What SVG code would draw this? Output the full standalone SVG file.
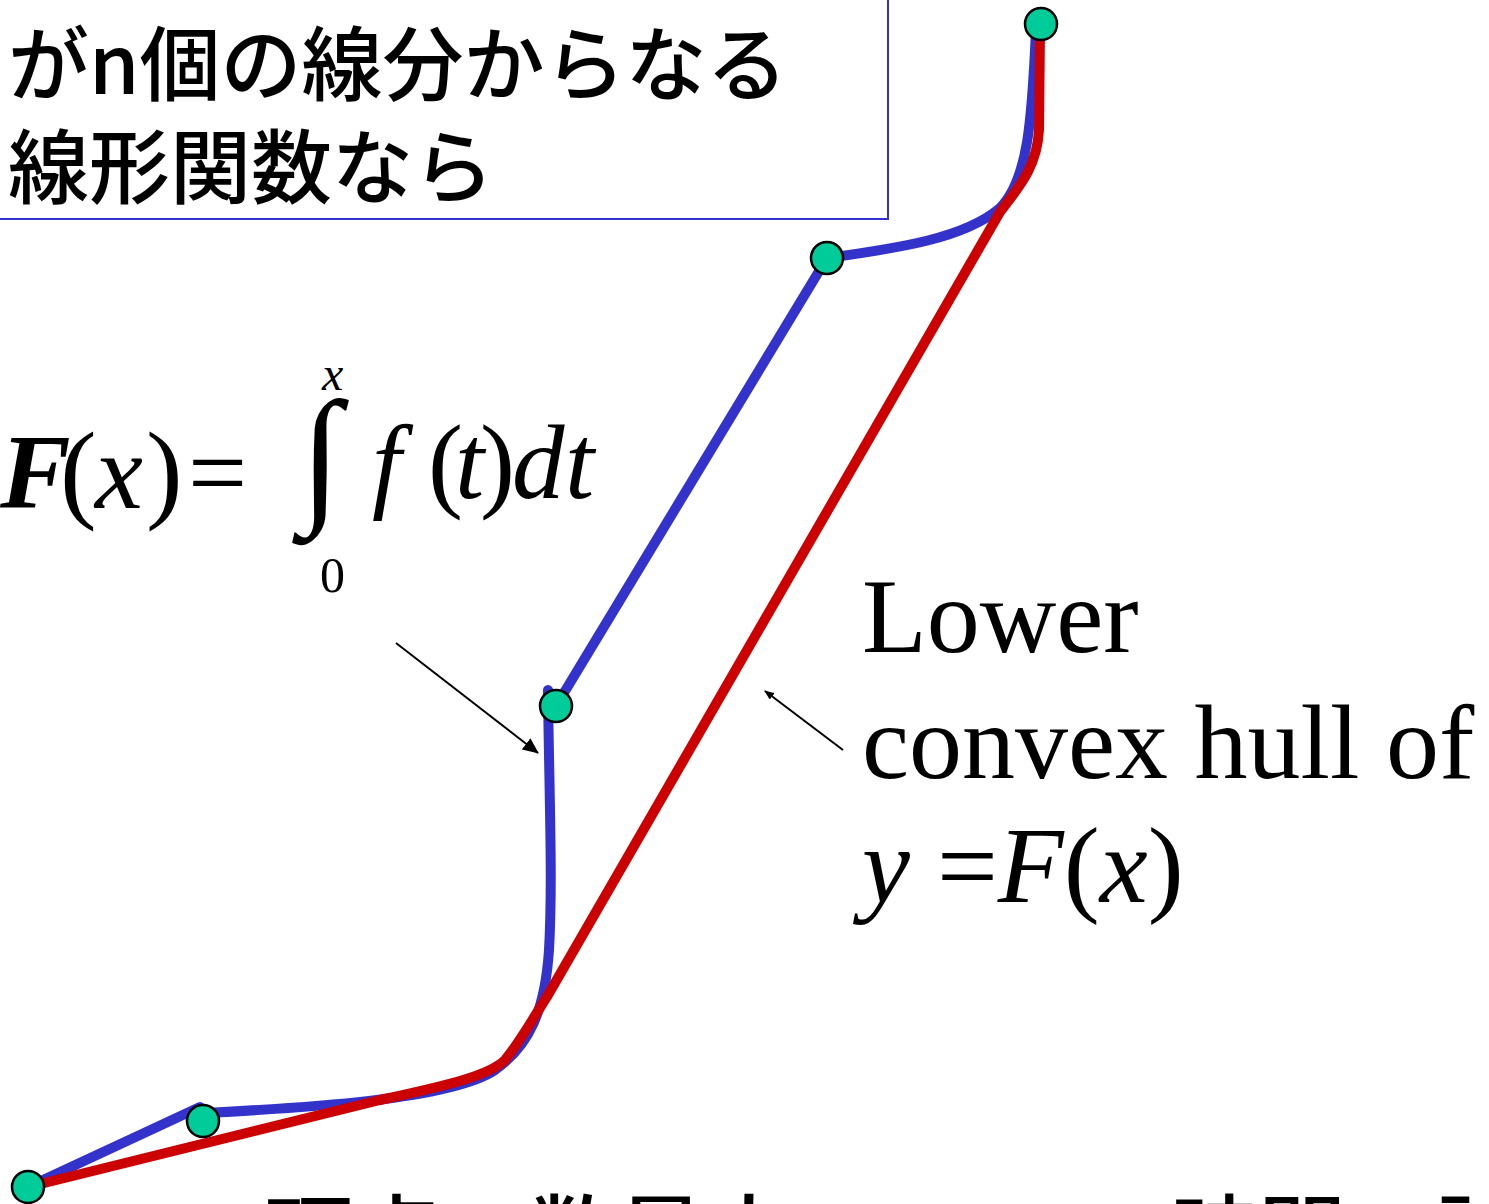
<svg xmlns="http://www.w3.org/2000/svg" width="1489" height="1204" viewBox="0 0 1489 1204">
<style>
.jp{font-family:"Noto Sans CJK JP","Noto Sans",sans-serif;fill:#000;font-weight:500}
.tm{font-family:"Liberation Serif","Times New Roman",serif;fill:#000}
.it{font-style:italic}
.blue{fill:none;stroke:#3333cc;stroke-width:10;stroke-linejoin:round}
.red{fill:none;stroke:#cc0000;stroke-width:10;stroke-linejoin:round}
.node{fill:#00cc99;stroke:#000;stroke-width:2.5}
.arr{stroke:#000;stroke-width:2;fill:none}
</style>
<defs>
<marker id="ah" markerWidth="10" markerHeight="8" refX="9" refY="4" orient="auto" markerUnits="userSpaceOnUse" viewBox="0 0 10 8">
<path d="M0,0 L10,4 L0,8 Z" fill="#000"/>
</marker>
<marker id="ahb" markerWidth="16" markerHeight="14" refX="15" refY="7" orient="auto" markerUnits="userSpaceOnUse" viewBox="0 0 16 14">
<path d="M0,0 L16,7 L0,14 Z" fill="#000"/>
</marker>
</defs>
<rect width="1489" height="1204" fill="#fff"/>

<g id="textbox">
<rect x="-10" y="-10" width="898" height="229" fill="#fff" stroke="#3333cc" stroke-width="2"/>
<text class="jp" x="8" y="94" font-size="81">がn個の線分からなる</text>
<text class="jp" x="8" y="197" font-size="81">線形関数なら</text>
</g>

<g id="formula">
<text class="tm it" x="0" y="508" font-size="106" font-weight="bold">F</text>
<text class="tm" x="60" y="508" font-size="110">(</text>
<text class="tm it" x="95" y="508" font-size="108">x</text>
<text class="tm" x="146" y="508" font-size="110">)</text>
<text class="tm" x="188" y="508" font-size="105">=</text>
<text class="tm" x="300" y="505" font-size="150">∫</text>
<text class="tm it" x="322" y="390" font-size="48">x</text>
<text class="tm" x="320" y="592" font-size="50">0</text>
<text class="tm it" x="372" y="498" font-size="105">f</text>
<text class="tm" x="428" y="498" font-size="105">(</text>
<text class="tm it" x="455" y="498" font-size="105">t</text>
<text class="tm" x="480" y="498" font-size="105">)</text>
<text class="tm it" x="512" y="498" font-size="105">d</text>
<text class="tm it" x="565" y="498" font-size="105">t</text>
</g>

<g id="hull-label">
<text class="tm" x="862" y="652" font-size="106">Lower</text>
<text class="tm" x="862" y="778" font-size="106">convex hull of</text>
<text class="tm" x="862" y="902" font-size="108"><tspan class="it">y</tspan> =<tspan class="it">F</tspan>(<tspan class="it">x</tspan>)</text>
</g>

<g id="bottom-text">
<text class="jp" y="1268" font-size="88"><tspan x="265">頂点の数最大</tspan><tspan x="1170">時間で計算</tspan></text>
</g>

<g id="curves">
<path id="F-curve" class="blue" d="M28,1187 L200,1107 L206,1113 C300,1108 450,1100 495,1070 C530,1045 545,1010 549,950 C553,880 549,790 548,690 L556,706 L827,258 C900,248 965,238 1000,208 C1028,180 1032,120 1036,30"/>
<path id="hull" class="red" d="M28,1187 L380,1100 C450,1085 490,1075 505,1060 C520,1042 532,1020 548,995 L1000,212 C1018,188 1037,168 1039,130 L1040,30"/>
</g>

<g id="connectors">
<line class="arr" x1="396" y1="643" x2="538" y2="753" marker-end="url(#ahb)"/>
<line class="arr" x1="843" y1="750" x2="765" y2="691" marker-end="url(#ah)"/>
</g>

<g id="nodes">
<circle id="n1" class="node" cx="28" cy="1187" r="16"/>
<circle id="n2" class="node" cx="203" cy="1121" r="16"/>
<circle id="n3" class="node" cx="556" cy="706" r="16"/>
<circle id="n4" class="node" cx="827" cy="258" r="16"/>
<circle id="n5" class="node" cx="1041" cy="24" r="16"/>
</g>
</svg>
